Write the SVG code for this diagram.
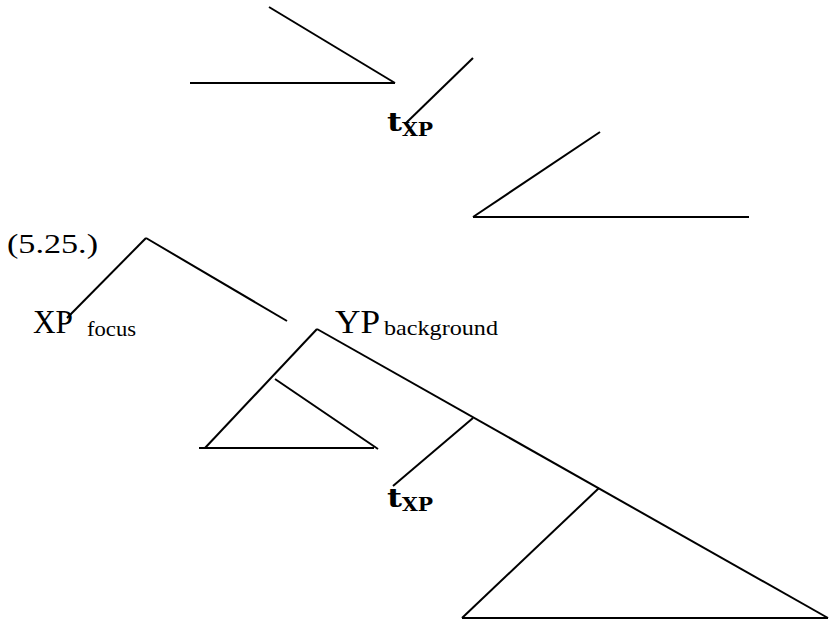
<svg xmlns="http://www.w3.org/2000/svg" width="832" height="626" viewBox="0 0 832 626">
<style>
line{stroke:#000;stroke-width:2;stroke-linecap:butt}
.s{font-family:"Liberation Serif","Times New Roman",serif;fill:#000}
.t{font-family:"DejaVu Serif",serif;font-weight:bold;fill:#000}
</style>
<rect width="832" height="626" fill="#fff"/>
<g id="connectors">
<line x1="269" y1="7" x2="395" y2="83"/>
<line x1="190" y1="83" x2="395" y2="83"/>
<line x1="473" y1="58" x2="405" y2="124"/>
<line x1="600" y1="132" x2="473" y2="217"/>
<line x1="473" y1="217" x2="749" y2="217"/>
<line x1="146" y1="238" x2="67" y2="318"/>
<line x1="146" y1="238" x2="287" y2="321"/>
<line x1="317" y1="329" x2="205" y2="448"/>
<line x1="275" y1="379" x2="378" y2="449"/>
<line x1="199" y1="448" x2="374" y2="448"/>
<line x1="317" y1="329" x2="828" y2="618"/>
<line x1="473" y1="418" x2="393" y2="486"/>
<line x1="599" y1="488" x2="462" y2="618"/>
<line x1="462" y1="618" x2="828" y2="618"/>
</g>
<g id="label">
<text class="s" x="7" y="253" font-size="28" textLength="91" lengthAdjust="spacingAndGlyphs">(5.25.)</text>
</g>
<g id="xp-focus">
<text class="s" x="33" y="333" font-size="33" textLength="40" lengthAdjust="spacingAndGlyphs">XP</text>
<text class="s" x="87" y="336" font-size="22" textLength="49" lengthAdjust="spacingAndGlyphs">focus</text>
</g>
<g id="yp-background">
<text class="s" x="335" y="333" font-size="33" textLength="45" lengthAdjust="spacingAndGlyphs">YP</text>
<text class="s" x="384" y="335" font-size="22" textLength="114" lengthAdjust="spacingAndGlyphs">background</text>
</g>
<g id="trace-1">
<text class="t" x="387" y="131" font-size="26" textLength="15" lengthAdjust="spacingAndGlyphs">t</text>
<text class="t" x="402" y="136" font-size="19" textLength="31" lengthAdjust="spacingAndGlyphs">XP</text>
</g>
<g id="trace-2">
<text class="t" x="387" y="507" font-size="26" textLength="15" lengthAdjust="spacingAndGlyphs">t</text>
<text class="t" x="402" y="511" font-size="19" textLength="31" lengthAdjust="spacingAndGlyphs">XP</text>
</g>
</svg>
